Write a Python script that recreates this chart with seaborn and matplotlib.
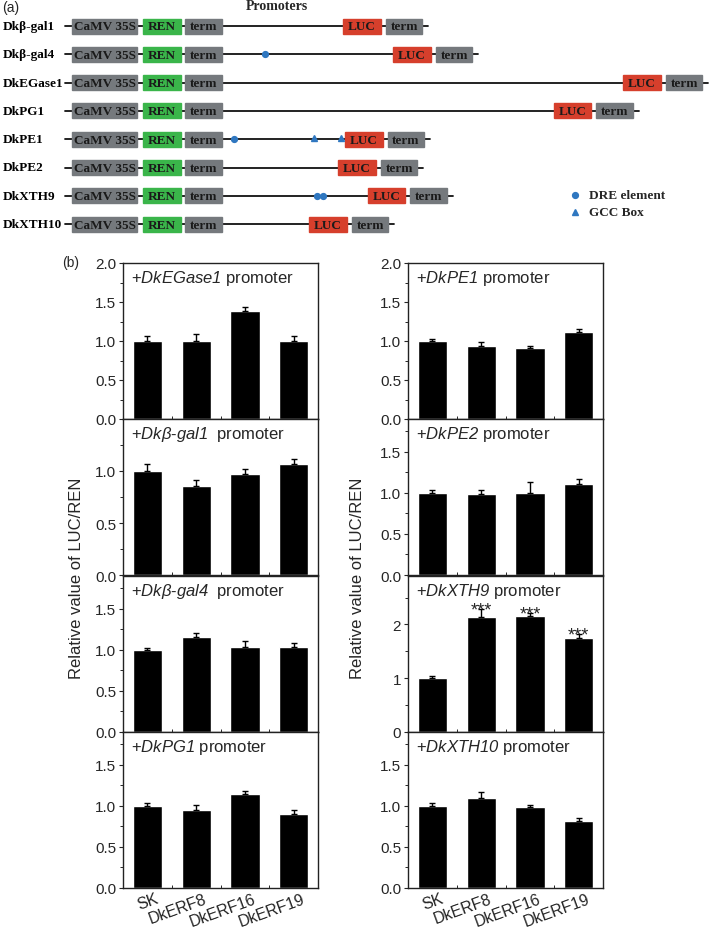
import matplotlib
matplotlib.use("Agg")
import matplotlib.pyplot as plt
from matplotlib.patches import Rectangle
from matplotlib.ticker import MultipleLocator, FixedLocator, FormatStrFormatter
import matplotlib.transforms as mtransforms
import numpy as np
import pandas as pd
import seaborn as sns

# ---- (a) promoter constructs ----
constructs = ["Dkβ-gal1", "Dkβ-gal4", "DkEGase1", "DkPG1", "DkPE1", "DkPE2", "DkXTH9", "DkXTH10"]
promoter_bp = [608, 858, 2008, 1660, 617, 583, 730, 438]
dre_sites = {"Dkβ-gal4": [217], "DkPE1": [63], "DkXTH9": [478, 505]}
gcc_sites = {"DkPE1": [462, 595]}

# ---- (b) dual luciferase assay ----
treatments = ["SK", "DkERF8", "DkERF16", "DkERF19"]
egase1_mean = [1.00, 1.00, 1.39, 1.00]
egase1_err = [0.07, 0.09, 0.04, 0.07]
gal1_mean = [1.00, 0.86, 0.97, 1.07]
gal1_err = [0.07, 0.05, 0.05, 0.05]
gal4_mean = [1.00, 1.16, 1.04, 1.04]
gal4_err = [0.02, 0.05, 0.07, 0.05]
pg1_mean = [1.00, 0.955, 1.14, 0.90]
pg1_err = [0.04, 0.05, 0.04, 0.05]
pe1_mean = [1.00, 0.93, 0.905, 1.115]
pe1_err = [0.03, 0.055, 0.035, 0.045]
pe2_mean = [1.00, 0.99, 1.00, 1.105]
pe2_err = [0.03, 0.04, 0.13, 0.07]
xth9_mean = [1.00, 2.14, 2.15, 1.745]
xth9_err = [0.05, 0.145, 0.055, 0.07]
xth9_sig = ["", "***", "***", "***"]
xth10_mean = [1.00, 1.093, 0.984, 0.82]
xth10_err = [0.037, 0.08, 0.03, 0.037]

sns.set_style("ticks")
plt.rcParams["font.family"] = ["Liberation Sans", "DejaVu Sans"]
# gene names are the only math text, so make every math glyph (digits too) italic
plt.rcParams["mathtext.fontset"] = "custom"
plt.rcParams["mathtext.it"] = "Liberation Sans:italic"
plt.rcParams["mathtext.rm"] = "Liberation Sans:italic"

W, H = 709, 928
fig = plt.figure(figsize=(W / 100, H / 100), dpi=100)


def px_axes(x0, y0, x1, y1):
    return fig.add_axes([x0 / W, 1 - y1 / H, (x1 - x0) / W, (y1 - y0) / H])


# ---------------- diagram ----------------
GRAY, GREEN, RED, BLUE = "#75797d", "#3ab54a", "#d63f2c", "#2f77c0"
serif = dict(family=["Liberation Serif", "DejaVu Serif"], weight="bold")
axd = px_axes(0, 0, W, 250)
axd.set_xlim(0, W)
axd.set_ylim(250, 0)
axd.axis("off")

box_h = 15
prom_start = 221.7
px_per_bp = 0.2
for i, (name, bp) in enumerate(zip(constructs, promoter_bp)):
    y = 27 + 28.3 * i
    luc_x = prom_start + bp * px_per_bp
    end_x = luc_x + 37.7 + 4.7 + 36.7 + 6
    axd.plot([65, end_x], [y, y], color="#111111", lw=1.3, zorder=1)
    for x0, w, c, lab in [(71.7, 65.6, GRAY, "CaMV 35S"), (143.3, 37.7, GREEN, "REN"),
                          (185, 36.7, GRAY, "term"), (luc_x, 37.7, RED, "LUC"),
                          (luc_x + 42.4, 36.7, GRAY, "term")]:
        axd.add_patch(Rectangle((x0, y - box_h / 2), w, box_h, color=c, zorder=2))
        axd.text(x0 + w / 2, y + 0.5, lab, ha="center", va="center", fontsize=9.5,
                 color="#1a1a1a", zorder=3, **serif)
    axd.text(3, y, name, ha="left", va="center", fontsize=9.5, color="black", **serif)
    for s in dre_sites.get(name, []):
        axd.plot(prom_start + s * px_per_bp, y, "o", color=BLUE, ms=4.2, zorder=3)
    for s in gcc_sites.get(name, []):
        axd.plot(prom_start + s * px_per_bp, y - 1.5, "^", color=BLUE, ms=3.8, zorder=3)

axd.plot(575, 195.7, "o", color=BLUE, ms=4.2)
axd.plot(575, 213, "^", color=BLUE, ms=4)
axd.text(589, 195.7, "DRE element", va="center", fontsize=9.5, **serif)
axd.text(589, 213, "GCC Box", va="center", fontsize=9.5, **serif)
axd.text(276.7, 6, "Promoters", ha="center", va="center", fontsize=10, **serif)
axd.text(2, 8, "(a)", ha="left", va="center", fontsize=10)
axd.text(62, 263, "(b)", ha="left", va="center", fontsize=10, clip_on=False)

# ---------------- bar panels ----------------
panels = [
    # column, row, title, means, errs, ylim top, tick step, last labelled tick, fmt
    (0, 0, r"+$DkEGase1$ promoter", egase1_mean, egase1_err, 2.0, 0.5, 2.0, "%.1f"),
    (0, 1, r"+$Dkβ$-$gal1$  promoter", gal1_mean, gal1_err, 1.5, 0.5, 1.0, "%.1f"),
    (0, 2, r"+$Dkβ$-$gal4$  promoter", gal4_mean, gal4_err, 1.9, 0.5, 1.5, "%.1f"),
    (0, 3, r"+$DkPG1$ promoter", pg1_mean, pg1_err, 1.9, 0.5, 1.5, "%.1f"),
    (1, 0, r"+$DkPE1$ promoter", pe1_mean, pe1_err, 2.0, 0.5, 2.0, "%.1f"),
    (1, 1, r"+$DkPE2$ promoter", pe2_mean, pe2_err, 1.9, 0.5, 1.5, "%.1f"),
    (1, 2, r"+$DkXTH9$ promoter", xth9_mean, xth9_err, 2.9, 1.0, 2.0, "%d"),
    (1, 3, r"+$DkXTH10$ promoter", xth10_mean, xth10_err, 1.9, 0.5, 1.5, "%.1f"),
]
col_x = [(123, 318), (408, 603)]
row_top = [264, 420, 577, 733]
row_h = 156

for col, row, title, means, errs, top, step, last, fmt in panels:
    x0, x1 = col_x[col]
    ax = px_axes(x0, row_top[row], x1, row_top[row] + row_h)
    df = pd.DataFrame({"treatment": treatments, "value": means})
    sns.barplot(data=df, x="treatment", y="value", color="black", saturation=1,
                width=0.6, errorbar=None, ax=ax)
    ax.errorbar(np.arange(len(means)), means, yerr=[np.zeros(len(errs)), errs], fmt="none",
                ecolor="black", elinewidth=1, capsize=2, capthick=1)
    if means is xth9_mean:
        for i, (m, e, s) in enumerate(zip(means, errs, xth9_sig)):
            if s:
                ax.annotate(s, (i, m + e), xytext=(0, -4), textcoords="offset points",
                            ha="center", va="baseline", fontsize=13)
    ax.set_xlim(-0.5, 3.5)
    ax.set_ylim(0, top)
    ax.yaxis.set_major_locator(FixedLocator(np.arange(0, last + 1e-9, step)))
    ax.yaxis.set_minor_locator(MultipleLocator(step / 2))
    ax.yaxis.set_major_formatter(FormatStrFormatter(fmt))
    ax.xaxis.set_minor_locator(FixedLocator([0.5, 1.5, 2.5]))
    ax.tick_params(axis="y", which="major", direction="out", length=3, width=0.8,
                   labelsize=11, pad=2)
    ax.tick_params(axis="y", which="minor", direction="out", length=2, width=0.7)
    ax.tick_params(axis="x", which="major", length=0, pad=2)
    ax.tick_params(axis="x", which="minor", direction="in", length=2.5, width=0.7)
    for sp in ax.spines.values():
        sp.set_linewidth(1.0)
        sp.set_color("#222222")
    ax.set_xlabel("")
    ax.set_ylabel("")
    ax.text(0.04, 0.97, title, transform=ax.transAxes, ha="left", va="top", fontsize=12)
    if row == 3:
        offset = mtransforms.ScaledTranslation(0.13, 0, fig.dpi_scale_trans)
        ax.set_xticks(range(len(treatments)))
        ax.set_xticklabels(treatments, rotation=20, ha="right", fontsize=11.5)
        for lab in ax.get_xticklabels():
            lab.set_transform(lab.get_transform() + offset)
    else:
        ax.set_xticklabels([])

fig.text(76.7 / W, 1 - 578 / H, "Relative value of LUC/REN", rotation=90,
         ha="center", va="center", fontsize=12)
fig.text(358 / W, 1 - 578 / H, "Relative value of LUC/REN", rotation=90,
         ha="center", va="center", fontsize=12)

fig.savefig("out.png", dpi=100)
